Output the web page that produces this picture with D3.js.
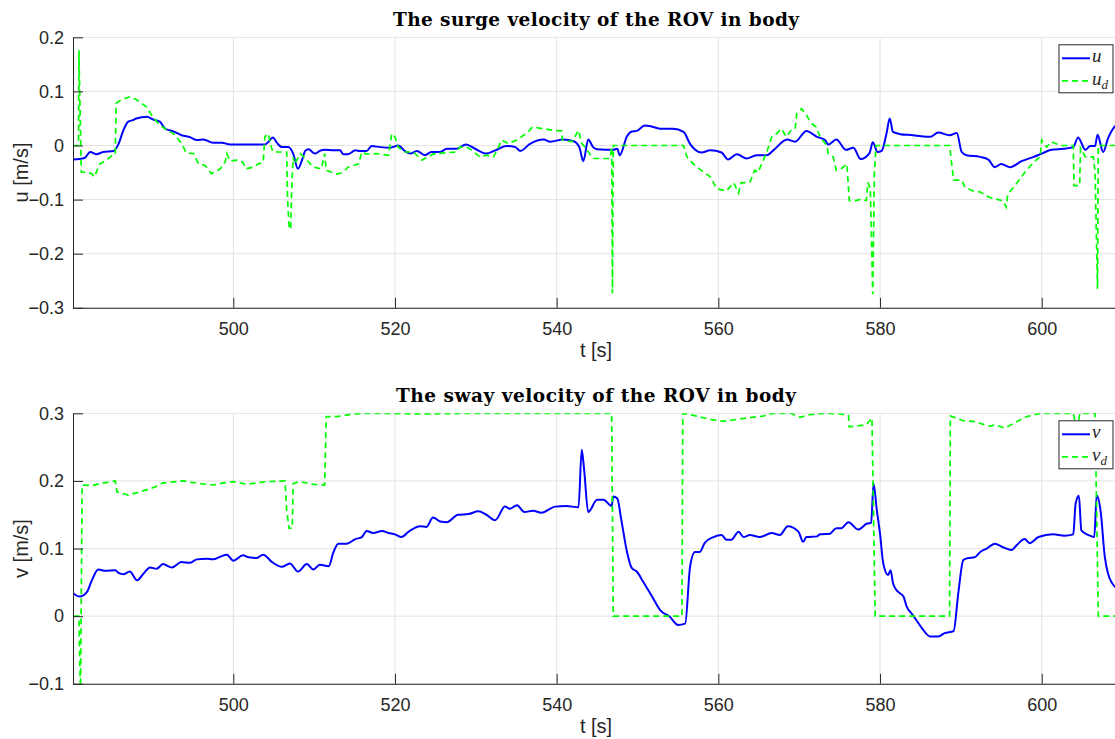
<!DOCTYPE html>
<html>
<head>
<meta charset="utf-8">
<script src="https://cdn.jsdelivr.net/npm/d3@7"></script>
<style>
  body { margin: 0; background: #fff; }
  svg { display: block; }
  .tick text { font-family: "Liberation Sans", Arial, sans-serif; font-size: 18px; fill: #262626; }
</style>
</head>
<body>
<div id="chart"></div>
<script>
//time window shown on both panels
let T_RANGE = [480.17, 609.56]
let X_TICKS = [500, 520, 540, 560, 580, 600]
let U_TICKS = [-0.3, -0.2, -0.1, 0, 0.1, 0.2]
let V_TICKS = [-0.1, 0, 0.1, 0.2, 0.3]

//surge velocity u [t, m/s]
let uData = [[480.2,-0.026],[481.6,-0.023],[482.3,-0.012],[483.1,-0.016],[483.9,-0.012],[485.2,-0.010],[485.8,0.003],[486.4,0.028],[487.0,0.044],[487.6,0.047],[488.0,0.050],[489.3,0.053],[490.1,0.048],[490.9,0.044],[491.6,0.031],[492.6,0.026],[493.6,0.019],[494.7,0.015],[495.5,0.010],[496.3,0.011],[497.5,0.005],[498.6,0.005],[499.6,0.002],[502.1,0.002],[503.9,0.002],[504.3,0.006],[504.9,0.015],[505.4,0.005],[506.0,-0.003],[506.8,-0.003],[507.4,-0.015],[508.0,-0.043],[508.5,-0.027],[508.9,-0.010],[509.3,-0.007],[510.1,-0.015],[510.7,-0.010],[511.3,-0.008],[512.4,-0.009],[513.2,-0.009],[513.6,-0.016],[514.2,-0.016],[515.1,-0.009],[515.7,-0.010],[516.5,-0.010],[517.1,-0.001],[518.2,-0.003],[519.4,-0.004],[520.4,0.000],[521.2,-0.010],[521.9,-0.015],[522.7,-0.010],[523.7,-0.018],[524.5,-0.012],[525.6,-0.012],[526.4,-0.006],[527.6,-0.006],[528.8,0.002],[529.9,-0.006],[531.3,-0.015],[532.4,-0.009],[533.8,-0.001],[534.9,-0.003],[535.5,-0.010],[536.7,0.003],[538.4,0.011],[539.2,0.007],[540.8,0.011],[542.1,0.008],[542.8,-0.003],[543.3,-0.029],[543.9,0.011],[544.5,-0.003],[545.0,-0.007],[547.0,-0.008],[547.5,-0.006],[547.8,-0.018],[548.7,0.017],[549.3,0.026],[549.9,0.027],[550.9,0.037],[551.5,0.036],[552.8,0.031],[554.4,0.031],[555.7,0.025],[556.5,0.003],[557.9,-0.013],[559.0,-0.009],[560.4,-0.013],[561.2,-0.026],[562.3,-0.016],[563.5,-0.024],[564.7,-0.018],[566.0,-0.018],[566.8,-0.009],[568.5,0.011],[569.5,0.007],[570.9,0.027],[572.2,0.016],[573.2,0.010],[573.6,0.002],[574.6,0.011],[575.8,-0.008],[576.7,-0.004],[577.6,-0.025],[578.7,-0.014],[579.1,0.006],[579.7,-0.012],[580.2,-0.010],[580.8,0.022],[581.2,0.050],[581.6,0.025],[582.5,0.021],[584.1,0.019],[585.1,0.017],[586.2,0.016],[587.2,0.024],[588.6,0.019],[589.5,0.023],[590.1,-0.012],[590.7,-0.018],[592.4,-0.021],[593.4,-0.026],[594.2,-0.040],[595.0,-0.034],[596.1,-0.040],[597.5,-0.029],[599.0,-0.021],[600.0,-0.015],[601.2,-0.008],[602.7,-0.006],[603.9,-0.003],[604.5,0.015],[605.4,-0.008],[606.0,-0.001],[606.6,-0.001],[606.9,0.020],[607.6,-0.012],[608.2,0.013],[609.1,0.036],[609.6,0.040]]

//desired surge velocity u_d
let udData = [[480.2,0],[480.85,0],[480.9,0.176],[481.2,-0.049],[482.0,-0.050],[482.5,-0.052],[482.8,-0.058],[483.5,-0.034],[484.3,-0.027],[485.2,-0.016],[485.4,-0.016],[485.5,0.078],[486.2,0.085],[487.2,0.090],[488.0,0.085],[489.3,0.071],[489.9,0.056],[490.7,0.041],[491.8,0.028],[492.6,0.022],[493.6,0.004],[494.2,-0.014],[495.1,-0.015],[495.7,-0.034],[496.5,-0.037],[497.3,-0.052],[498.4,-0.043],[499.0,-0.030],[499.2,-0.015],[499.6,-0.029],[500.4,-0.027],[501.2,-0.031],[501.5,-0.043],[502.5,-0.040],[503.1,-0.034],[503.7,-0.031],[503.9,0.016],[504.3,0.022],[504.7,-0.003],[504.9,-0.012],[506.6,-0.012],[506.7,-0.095],[506.9,-0.150],[507.1,-0.155],[507.2,-0.090],[507.4,-0.021],[507.6,-0.034],[508.3,-0.015],[509.1,-0.027],[509.9,-0.040],[510.9,-0.043],[511.3,-0.015],[511.5,-0.046],[512.8,-0.053],[513.5,-0.050],[514.2,-0.040],[515.5,-0.034],[515.9,-0.012],[516.5,-0.016],[517.7,-0.015],[519.2,-0.018],[519.6,0.022],[520.0,0.016],[520.4,-0.003],[521.2,-0.012],[522.3,-0.012],[523.3,-0.027],[524.1,-0.021],[524.7,-0.016],[525.8,-0.014],[527.6,-0.012],[528.0,-0.003],[528.9,-0.003],[529.5,-0.009],[530.5,-0.021],[531.3,-0.018],[532.2,-0.021],[532.8,-0.003],[533.2,0.010],[534.0,0.004],[535.1,0.010],[535.9,0.019],[536.5,0.025],[536.9,0.033],[537.5,0.033],[539.6,0.028],[540.6,0.027],[540.7,0.010],[541.9,0.007],[542.7,0.028],[543.1,0.004],[543.6,-0.005],[544.5,-0.024],[546.6,-0.024],[546.8,-0.003],[546.9,-0.273],[547.0,0],[555.7,0],[556.1,-0.021],[556.9,-0.034],[557.9,-0.046],[559.0,-0.058],[559.8,-0.080],[561.0,-0.084],[561.9,-0.069],[562.5,-0.088],[562.8,-0.069],[563.9,-0.068],[564.5,-0.046],[564.9,-0.050],[566.0,-0.012],[566.6,0.016],[567.2,0.022],[567.8,0.031],[568.4,0.016],[569.0,0.028],[569.5,0.031],[569.7,0.059],[570.3,0.068],[570.9,0.056],[571.5,0.041],[572.1,0.034],[572.6,0.016],[573.4,0.000],[573.6,-0.015],[574.2,-0.021],[574.6,-0.046],[575.2,-0.043],[575.9,-0.034],[576.2,-0.102],[577.0,-0.102],[577.7,-0.099],[578.3,-0.102],[578.5,-0.068],[578.8,-0.080],[579.1,-0.275],[579.3,-0.050],[579.5,0],[588.6,0],[589.1,-0.064],[590.1,-0.064],[590.5,-0.077],[591.5,-0.084],[592.4,-0.086],[593.4,-0.095],[594.0,-0.098],[594.6,-0.100],[595.2,-0.102],[595.6,-0.114],[595.8,-0.090],[596.7,-0.074],[597.5,-0.058],[598.1,-0.046],[599.0,-0.031],[599.8,-0.021],[600.0,0.010],[600.6,-0.003],[601.2,0.007],[602.3,0],[603.9,0],[604.0,-0.074],[604.7,-0.074],[604.8,-0.005],[605.4,-0.021],[606.4,-0.021],[606.6,-0.050],[606.9,-0.265],[607.0,0],[609.6,0]]

//sway velocity v
let vData = [[480.2,0.034],[481.0,0.029],[481.9,0.036],[482.5,0.053],[483.3,0.069],[484.2,0.067],[485.4,0.068],[485.8,0.064],[486.4,0.062],[487.2,0.066],[488.1,0.053],[488.9,0.063],[489.7,0.072],[490.5,0.070],[491.3,0.077],[492.4,0.072],[493.6,0.080],[494.6,0.079],[495.5,0.084],[496.7,0.085],[497.5,0.084],[498.4,0.088],[499.2,0.091],[500.0,0.082],[501.2,0.090],[501.9,0.087],[502.9,0.086],[503.7,0.091],[504.8,0.080],[506.0,0.073],[507.0,0.078],[508.0,0.066],[509.1,0.077],[509.9,0.069],[510.7,0.076],[511.8,0.074],[512.4,0.095],[513.0,0.107],[514.0,0.107],[515.1,0.114],[515.9,0.117],[516.5,0.126],[517.3,0.123],[518.4,0.126],[519.2,0.123],[520.0,0.121],[520.8,0.117],[521.7,0.125],[523.1,0.133],[523.9,0.132],[524.7,0.146],[525.6,0.140],[526.4,0.139],[527.8,0.150],[529.1,0.151],[530.3,0.155],[531.3,0.150],[532.4,0.142],[533.6,0.162],[534.2,0.159],[535.1,0.164],[536.0,0.154],[537.1,0.156],[538.1,0.153],[539.8,0.162],[541.2,0.163],[542.7,0.161],[543.1,0.246],[543.4,0.216],[543.9,0.154],[545.0,0.172],[545.8,0.172],[546.8,0.163],[547.0,0.177],[547.5,0.174],[548.0,0.142],[548.7,0.095],[549.3,0.071],[549.9,0.066],[550.7,0.051],[551.8,0.029],[552.8,0.009],[554.0,-0.001],[555.0,-0.013],[555.9,-0.011],[556.5,0.073],[557.1,0.095],[557.7,0.095],[558.3,0.108],[559.4,0.117],[560.4,0.120],[561.0,0.113],[561.6,0.113],[562.5,0.125],[563.1,0.117],[563.9,0.120],[565.1,0.117],[566.6,0.123],[567.6,0.120],[568.6,0.133],[569.9,0.125],[570.5,0.110],[570.9,0.117],[572.2,0.118],[572.6,0.121],[573.8,0.122],[574.6,0.130],[575.2,0.130],[576.1,0.139],[577.3,0.128],[578.4,0.137],[578.9,0.138],[579.2,0.196],[579.6,0.157],[580.0,0.122],[580.4,0.078],[581.0,0.061],[581.3,0.068],[581.6,0.049],[582.0,0.039],[582.9,0.029],[583.3,0.014],[583.9,0.004],[584.5,-0.006],[585.2,-0.018],[586.2,-0.030],[587.2,-0.030],[588.0,-0.025],[589.1,-0.022],[589.7,0.036],[590.3,0.083],[590.9,0.086],[591.7,0.087],[592.4,0.095],[593.2,0.100],[594.2,0.107],[595.2,0.102],[596.3,0.098],[596.9,0.105],[597.9,0.114],[598.5,0.108],[599.6,0.117],[601.4,0.121],[602.8,0.119],[603.9,0.121],[604.2,0.167],[604.6,0.178],[604.9,0.127],[605.8,0.120],[606.5,0.117],[606.8,0.179],[607.3,0.154],[607.8,0.088],[608.2,0.063],[609.1,0.043],[609.6,0.040]]

//desired sway velocity v_d
let vdData = [[480.2,0],[480.9,0],[481.1,-0.12],[481.3,0.194],[482.5,0.193],[483.5,0.196],[485.4,0.200],[485.6,0.184],[487.0,0.179],[488.5,0.184],[490.3,0.191],[491.3,0.197],[493.8,0.200],[495.9,0.196],[497.5,0.194],[498.8,0.197],[500.0,0.199],[501.7,0.195],[504.1,0.199],[506.4,0.200],[506.6,0.157],[506.9,0.130],[507.3,0.130],[507.4,0.196],[508.2,0.199],[509.9,0.195],[511.3,0.194],[511.5,0.295],[512.8,0.295],[514.8,0.299],[516.5,0.300],[523.5,0.299],[530.0,0.300],[546.8,0.300],[547.0,0],[555.5,0],[555.6,0.300],[556.9,0.297],[559.0,0.291],[560.6,0.288],[562.3,0.291],[563.5,0.293],[565.6,0.296],[566.8,0.300],[569.0,0.300],[570.1,0.294],[571.3,0.298],[573.4,0.300],[575.0,0.299],[576.1,0.297],[576.2,0.280],[578.3,0.283],[579.0,0.293],[579.4,0],[588.6,0],[588.7,0.296],[590.3,0.289],[591.5,0.288],[593.6,0.281],[594.3,0.283],[595.4,0.278],[596.5,0.285],[598.1,0.295],[599.8,0.300],[603.9,0.300],[604.1,0.290],[604.6,0.290],[604.7,0.300],[606.6,0.300],[607.0,0],[609.6,0]]

let width = 1115, height = 739
let plotLeft = 73, plotRight = 1119, plotHeight = 270.5

//create svg
let svg = d3.select("#chart")
    .append("svg")
    .attr("width", width)
    .attr("height", height);

//one panel = axes, grid, two lines, legend
function drawPanel(cfg) {
    let g = svg.append("g").attr("transform", `translate(0,${cfg.top})`);

    let x = d3.scaleLinear().domain(T_RANGE).range([plotLeft, plotRight]);
    let y = d3.scaleLinear().domain(cfg.yDomain).range([plotHeight, 0]);

    //grid
    g.append("g").selectAll("line").data(X_TICKS).enter().append("line")
        .attr("x1", d => x(d)).attr("x2", d => x(d))
        .attr("y1", 0).attr("y2", plotHeight)
        .attr("stroke", "#e3e3e3").attr("stroke-width", 1);
    g.append("g").selectAll("line").data(cfg.yTicks).enter().append("line")
        .attr("x1", plotLeft).attr("x2", plotRight)
        .attr("y1", d => y(d)).attr("y2", d => y(d))
        .attr("stroke", "#e3e3e3").attr("stroke-width", 1);

    //lines, clipped to the axes
    let clipId = "clip" + cfg.top;
    g.append("clipPath").attr("id", clipId).append("rect")
        .attr("x", plotLeft).attr("y", 0)
        .attr("width", plotRight - plotLeft).attr("height", plotHeight);

    let smooth = d3.line().x(d => x(d[0])).y(d => y(d[1])).curve(d3.curveMonotoneX);
    let line = d3.line().x(d => x(d[0])).y(d => y(d[1]));
    let lines = g.append("g").attr("clip-path", `url(#${clipId})`);
    lines.append("path").datum(cfg.actual)
        .attr("fill", "none").attr("stroke", "#0000ff").attr("stroke-width", 2)
        .attr("stroke-linejoin", "round")
        .attr("d", smooth);
    lines.append("path").datum(cfg.desired)
        .attr("fill", "none").attr("stroke", "#00ff00").attr("stroke-width", 1.7)
        .attr("stroke-dasharray", "6,4")
        .attr("d", line);

    //x axis (ticks point inward)
    let xAxis = g.append("g")
        .attr("transform", `translate(0,${plotHeight})`)
        .call(d3.axisBottom(x).tickValues(X_TICKS).tickSize(-10).tickPadding(16).tickSizeOuter(0));
    //y axis
    let yAxis = g.append("g")
        .attr("transform", `translate(${plotLeft},0)`)
        .call(d3.axisLeft(y).tickValues(cfg.yTicks).tickSize(-10).tickPadding(9).tickSizeOuter(0)
            .tickFormat(d => d3.format("")(Math.round(d * 10) / 10)));
    [xAxis, yAxis].forEach(a => {
        a.select(".domain").attr("stroke", "#262626");
        a.selectAll(".tick line").attr("stroke", "#262626");
        a.attr("font-family", null).attr("font-size", null);
    });
    xAxis.selectAll(".tick text").attr("dy", "0.71em").attr("y", 14);

    //x label
    g.append("text")
        .attr("x", (plotLeft + plotRight) / 2)
        .attr("y", plotHeight + 49)
        .style("text-anchor", "middle")
        .style("font-family", "Liberation Sans, Arial, sans-serif")
        .style("font-size", "20px")
        .style("fill", "#262626")
        .text("t [s]");

    //y label
    g.append("text")
        .attr("transform", `translate(28,${plotHeight / 2}) rotate(-90)`)
        .style("text-anchor", "middle")
        .style("font-family", "Liberation Sans, Arial, sans-serif")
        .style("font-size", "20px")
        .style("fill", "#262626")
        .text(cfg.yLabel);

    //title
    g.append("text")
        .attr("x", (plotLeft + plotRight) / 2)
        .attr("y", -11)
        .attr("textLength", cfg.titleWidth)
        .attr("lengthAdjust", "spacing")
        .style("text-anchor", "middle")
        .style("font-family", "DejaVu Serif, serif")
        .style("font-weight", "bold")
        .style("font-size", "18.5px")
        .style("fill", "#000")
        .text(cfg.title);

    //legend
    let lg = g.append("g").attr("transform", "translate(1059,7.5)");
    lg.append("rect").attr("width", 54).attr("height", 48)
        .attr("fill", "#fff").attr("stroke", "#262626").attr("stroke-width", 1);
    let entries = [
        {sym: cfg.symbol, sub: null, color: "#0000ff", dash: null, w: 2},
        {sym: cfg.symbol, sub: "d", color: "#00ff00", dash: "6,4", w: 1.7}
    ];
    entries.forEach((e, i) => {
        let ey = 13.5 + i * 22.5;
        lg.append("line").attr("x1", 3).attr("x2", 31).attr("y1", ey).attr("y2", ey)
            .attr("stroke", e.color).attr("stroke-width", e.w)
            .attr("stroke-dasharray", e.dash);
        let t = lg.append("text").attr("x", 33).attr("y", ey + 4)
            .style("font-family", "Liberation Serif, serif")
            .style("font-style", "italic")
            .style("font-size", "19px")
            .style("fill", "#262626")
            .text(e.sym);
        if (e.sub) {
            t.append("tspan").attr("dy", 4).style("font-size", "13px").text(e.sub);
        }
    });
}

drawPanel({top: 37.3, yDomain: [-0.3, 0.2], yTicks: U_TICKS, actual: uData, desired: udData,
    yLabel: "u [m/s]", title: "The surge velocity of the ROV in body", titleWidth: 406, symbol: "u"});
drawPanel({top: 413.3, yDomain: [-0.1, 0.3], yTicks: V_TICKS, actual: vData, desired: vdData,
    yLabel: "v [m/s]", title: "The sway velocity of the ROV in body", titleWidth: 400, symbol: "v"});
</script>
</body>
</html>
